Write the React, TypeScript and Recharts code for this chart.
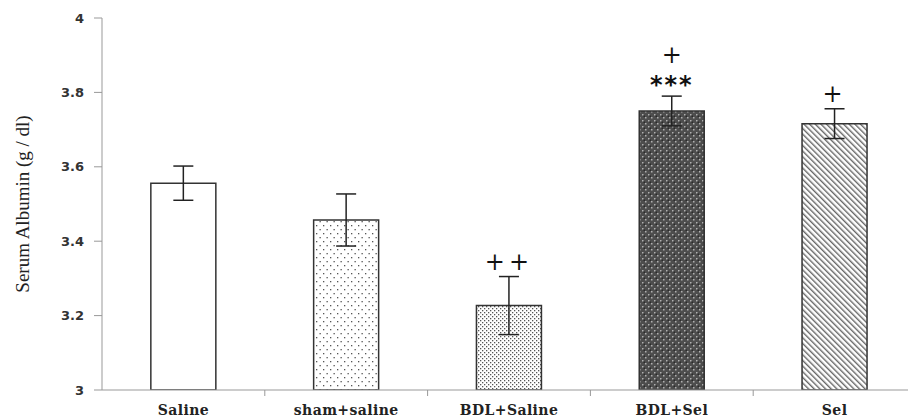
import React from 'react';
import { BarChart, Bar, XAxis, YAxis, ErrorBar, Cell, LabelList } from 'recharts';

const groups = ['Saline', 'sham+saline', 'BDL+Saline', 'BDL+Sel', 'Sel'];
const albumin = [3.556, 3.457, 3.227, 3.75, 3.716];
const albuminErr = [0.046, 0.07, 0.078, 0.04, 0.04];
const markNear = ['', '', '++', '***', '+'];
const markFar = ['', '', '', '+', ''];
const yTicks = [3, 3.2, 3.4, 3.6, 3.8, 4];

const rows = groups.map((name, i) => ({
  name,
  value: albumin[i],
  err: albuminErr[i],
  mark: markNear[i],
}));

const fills = ['#ffffff', 'url(#dotsSparse)', 'url(#dotsDense)', 'url(#hatchDark)', 'url(#diag)'];
const Y_MIN = 3;

const MarkLabel = (props: any) => {
  const { x, y, width, height, index } = props;
  const near = markNear[index];
  const far = markFar[index];
  if (!near && !far) return null;
  const pxPerUnit = height / (albumin[index] - Y_MIN);
  const errTop = y - albuminErr[index] * pxPerUnit;
  const cx = x + width / 2;
  const isStar = near === '***';
  return (
    <g>
      {near && (
        <text
          x={cx}
          y={isStar ? errTop - 11 : errTop - 15}
          textAnchor="middle"
          dominantBaseline="central"
          fontFamily={isStar ? 'DejaVu Sans' : 'DejaVu Serif'}
          fontWeight={isStar ? 'bold' : 'normal'}
          fontSize={isStar ? 24 : 24}
          letterSpacing={isStar ? 2 : 4}
          fill="#111"
        >
          {near}
        </text>
      )}
      {far && (
        <text
          x={cx}
          y={errTop - 41}
          textAnchor="middle"
          dominantBaseline="central"
          fontFamily="DejaVu Serif"
          fontSize={24}
          fill="#111"
        >
          {far}
        </text>
      )}
    </g>
  );
};

const CategoryTick = (props: any) => {
  const { x, y, payload, index, width } = props;
  const band = width ? width / groups.length : 162.7;
  return (
    <g>
      {index > 0 && (
        <line x1={x - band / 2} x2={x - band / 2} y1={y - 8} y2={y - 2} stroke="#999" strokeWidth={1} />
      )}
      <text
        x={x}
        y={y + 17}
        textAnchor="middle"
        fontFamily="DejaVu Serif"
        fontWeight="bold"
        fontSize={14}
        letterSpacing={0.4}
        fill="#222"
      >
        {payload.value}
      </text>
    </g>
  );
};

export default function App() {
  return (
    <div style={{ position: 'absolute', left: 0, top: 0, width: 908, height: 418, overflow: 'hidden', background: '#fff' }}>
      <BarChart
        width={920}
        height={418}
        data={rows}
        margin={{ top: 18, right: 4, bottom: 0, left: 42 }}
        barCategoryGap="30%"
      >
        <defs>
          <pattern id="dotsSparse" patternUnits="userSpaceOnUse" width="7" height="8">
            <rect width="7" height="8" fill="#fff" />
            <rect x="1" y="1" width="1.3" height="1.3" fill="#555" />
            <rect x="4.5" y="5" width="1.3" height="1.3" fill="#555" />
          </pattern>
          <pattern id="dotsDense" patternUnits="userSpaceOnUse" width="4" height="4">
            <rect width="4" height="4" fill="#fff" />
            <rect x="0" y="0" width="1.3" height="1.3" fill="#555" />
            <rect x="2" y="2" width="1.3" height="1.3" fill="#555" />
          </pattern>
          <pattern id="hatchDark" patternUnits="userSpaceOnUse" width="6" height="6">
            <rect width="6" height="6" fill="#4d4d4d" />
            <rect x="0" y="0" width="1.5" height="1.5" fill="#b0b0b0" />
            <rect x="3" y="3" width="1.5" height="1.5" fill="#b0b0b0" />
            <rect x="1.5" y="1.5" width="1.5" height="1.5" fill="#2a2a2a" />
          </pattern>
          <pattern id="diag" patternUnits="userSpaceOnUse" width="4" height="4" patternTransform="rotate(-45)">
            <rect width="4" height="4" fill="#fff" />
            <rect x="0" y="0" width="1.4" height="4" fill="#666" />
          </pattern>
        </defs>
        <XAxis
          dataKey="name"
          height={28}
          axisLine={{ stroke: '#999' }}
          tickLine={false}
          interval={0}
          tick={<CategoryTick />}
        />
        <YAxis
          width={60}
          domain={[3, 4]}
          ticks={yTicks}
          tickFormatter={(v: number) => String(v)}
          axisLine={{ stroke: '#999' }}
          tickLine={{ stroke: '#999' }}
          tickSize={8}
          tickMargin={10}
          tick={{ fontFamily: 'DejaVu Sans', fontWeight: 'bold', fontSize: 13, fill: '#333' }}
          allowDataOverflow
          label={{
            value: 'Serum Albumin (g / dl)',
            angle: -90,
            position: 'insideLeft',
            offset: -20,
            style: { fontFamily: 'Liberation Serif', fontSize: 19, fill: '#222', textAnchor: 'middle' },
          }}
        />
        <Bar dataKey="value" stroke="#333" strokeWidth={1.5} isAnimationActive={false}>
          {rows.map((r, i) => (
            <Cell key={r.name} fill={fills[i]} />
          ))}
          <ErrorBar dataKey="err" width={10} strokeWidth={1.5} stroke="#222" />
          <LabelList dataKey="mark" content={<MarkLabel />} />
        </Bar>
      </BarChart>
    </div>
  );
}
